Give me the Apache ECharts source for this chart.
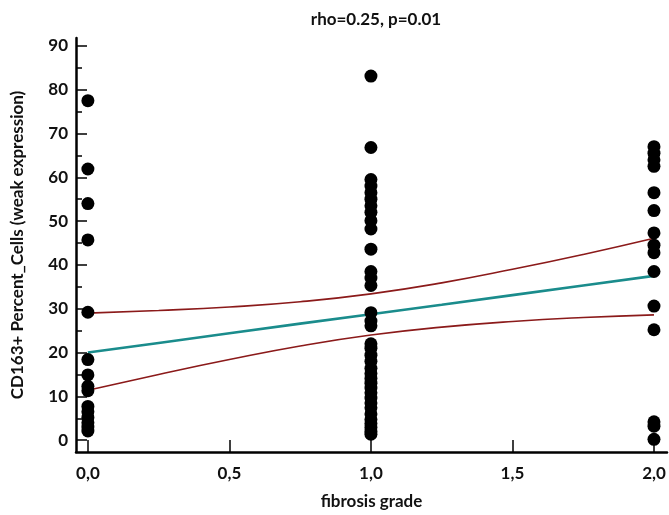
<!DOCTYPE html>
<html><head><meta charset="utf-8">
<script src="https://cdn.jsdelivr.net/npm/echarts@6/dist/echarts.min.js"></script>
<style>html,body{margin:0;padding:0;background:#fff}#c{width:669px;height:515px}</style>
</head><body><div id="c"></div>
<script>
var titleText = 'rho=0.25, p=0.01';
var xName = 'fibrosis grade';
var yName = 'CD163+ Percent_Cells (weak expression)';
var xTicks = [0, 0.5, 1, 1.5, 2];
var yTicks = [0, 10, 20, 30, 40, 50, 60, 70, 80, 90];
var yMinorTicks = [5, 15, 25, 35, 45, 55, 65, 75, 85];
var grade0 = [77.5, 61.9, 54.0, 45.7, 29.2, 18.4, 14.9, 12.3, 11.3, 7.7, 6.5, 5.2, 4.0, 3.0, 2.1];
var grade1 = [83.1, 66.8, 59.5, 58.0, 56.5, 55.0, 53.5, 52.0, 50.1, 48.2, 43.6, 38.5, 37.0, 35.3, 29.1, 27.2, 26.1, 22.0, 21.0, 19.4, 18.0, 16.4, 15.2, 14.1, 13.0, 11.9, 10.8, 9.6, 8.5, 7.4, 6.0, 4.7, 3.8, 2.9, 2.0, 1.35];
var grade2 = [67.0, 65.5, 64.0, 62.5, 56.5, 52.4, 47.3, 44.5, 42.8, 38.5, 30.6, 25.2, 4.2, 3.2, 0.2];
var lineX = [0, 0.25, 0.5, 0.75, 1, 1.25, 1.5, 1.75, 2];
var fitY = [20.0, 22.2, 24.4, 26.6, 28.75, 30.9, 33.1, 35.3, 37.5];
var upperY = [29.0, 29.6, 30.4, 31.6, 33.4, 35.9, 39.0, 42.4, 46.1];
var lowerY = [11.4, 15.0, 18.4, 21.5, 24.0, 25.8, 27.1, 28.0, 28.6];

var pts = [];
[[0, grade0], [1, grade1], [2, grade2]].forEach(function (g) {
  g[1].forEach(function (v) { pts.push([g[0], v]); });
});
function zip(xs, ys) { return xs.map(function (x, i) { return [x, ys[i]]; }); }

var FONT = 'Lato';
var FS = 17;
var chart = echarts.init(document.getElementById('c'), null, {renderer: 'canvas'});
var yMin = -2.7, yMax = 91.8;
chart.setOption({
  animation: false,
  backgroundColor: '#fff',
  title: {
    text: titleText, left: 371, top: 6, textAlign: 'center',
    textStyle: {fontFamily: FONT, fontSize: FS, fontWeight: 'bold', color: '#111'}
  },
  grid: {left: 76, right: 2, top: 38, bottom: 57},
  xAxis: {
    type: 'value', min: -0.042, max: 2.046,
    name: xName, nameLocation: 'middle', nameGap: 41,
    nameTextStyle: {fontFamily: FONT, fontSize: FS, fontWeight: 'bold', color: '#111'},
    axisLine: {show: true, onZero: false, lineStyle: {color: '#000', width: 2.5}},
    axisTick: {show: true, inside: true, length: 12, customValues: xTicks, lineStyle: {color: '#000', width: 1.5}},
    axisLabel: {customValues: xTicks, margin: 13, fontFamily: FONT, fontSize: FS, fontWeight: 'bold', color: '#111',
      formatter: function (v) { return v.toFixed(1).replace('.', ','); }},
    splitLine: {show: false}
  },
  yAxis: [{
    type: 'value', min: yMin, max: yMax,
    name: yName, nameLocation: 'middle', nameGap: 50, nameRotate: 90,
    nameTextStyle: {fontFamily: FONT, fontSize: FS, fontWeight: 'bold', color: '#111'},
    axisLine: {show: true, onZero: false, lineStyle: {color: '#000', width: 2.5}},
    axisTick: {show: true, inside: true, length: 11, customValues: yTicks, lineStyle: {color: '#000', width: 1.5}},
    axisLabel: {customValues: yTicks, margin: 8, fontFamily: FONT, fontSize: FS, fontWeight: 'bold', color: '#111'},
    splitLine: {show: false}
  }, {
    type: 'value', min: yMin, max: yMax, position: 'left', offset: 0,
    axisLine: {show: false, onZero: false},
    axisTick: {show: true, inside: true, length: 6, customValues: yMinorTicks, lineStyle: {color: '#000', width: 1.5}},
    axisLabel: {show: false},
    splitLine: {show: false}
  }],
  series: [{
    type: 'line', data: zip(lineX, upperY), smooth: true, symbol: 'none',
    lineStyle: {color: '#8b1a1a', width: 1.6}, z: 3
  }, {
    type: 'line', data: zip(lineX, lowerY), smooth: true, symbol: 'none',
    lineStyle: {color: '#8b1a1a', width: 1.6}, z: 3
  }, {
    type: 'line', data: zip(lineX, fitY), symbol: 'none',
    lineStyle: {color: '#1a8c8c', width: 2.6}, z: 3
  }, {
    type: 'scatter', data: pts, symbol: 'circle', symbolSize: 13,
    itemStyle: {color: '#000', opacity: 1}, z: 4
  }]
});
</script></body></html>
